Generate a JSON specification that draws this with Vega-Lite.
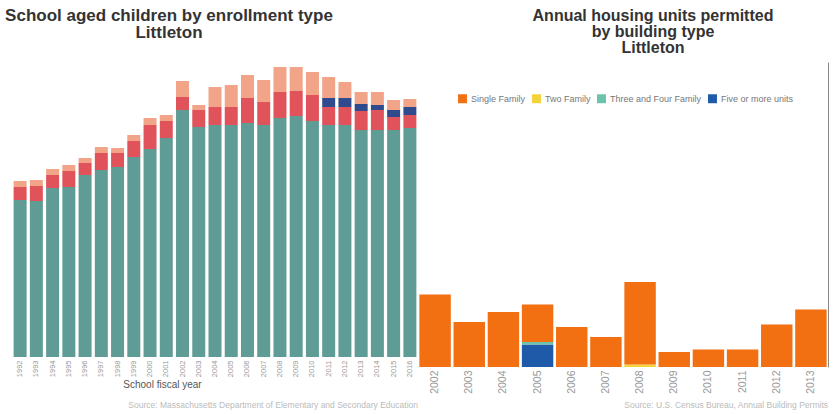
{
  "$schema": "https://vega.github.io/schema/vega-lite/v6.json",
  "padding": {"left": 5, "top": 6, "right": 2, "bottom": 0},
  "spacing": 0,
  "resolve": {"scale": {"color": "independent", "x": "independent", "y": "independent"}, "legend": {"color": "independent"}},
  "config": {
    "view": {"stroke": null},
    "font": "Liberation Sans",
    "title": {"font": "Liberation Sans", "fontWeight": "bold", "color": "#333333"}
  },
  "hconcat": [
    {
      "title": {
        "text": "Source: Massachusetts Department of Elementary and Secondary Education",
        "orient": "bottom", "anchor": "end", "fontSize": 8.5, "fontWeight": "normal",
        "color": "#bbbbbb", "offset": 11
      },
      "vconcat": [
        {
          "width": 406,
          "height": 295,
          "title": {
            "text": ["School aged children by enrollment type", "Littleton"],
            "fontSize": 17, "lineHeight": 17.5, "offset": 20, "dx": -46
          },
          "data": {
            "values": [
              {"year": "1992", "type": "Public school", "students": 942},
              {"year": "1992", "type": "Private school", "students": 78},
              {"year": "1992", "type": "Out-of-district public", "students": 36},
              {"year": "1993", "type": "Public school", "students": 936},
              {"year": "1993", "type": "Private school", "students": 90},
              {"year": "1993", "type": "Out-of-district public", "students": 36},
              {"year": "1994", "type": "Public school", "students": 1014},
              {"year": "1994", "type": "Private school", "students": 78},
              {"year": "1994", "type": "Out-of-district public", "students": 36},
              {"year": "1995", "type": "Public school", "students": 1020},
              {"year": "1995", "type": "Private school", "students": 96},
              {"year": "1995", "type": "Out-of-district public", "students": 36},
              {"year": "1996", "type": "Public school", "students": 1092},
              {"year": "1996", "type": "Private school", "students": 72},
              {"year": "1996", "type": "Out-of-district public", "students": 30},
              {"year": "1997", "type": "Public school", "students": 1122},
              {"year": "1997", "type": "Private school", "students": 102},
              {"year": "1997", "type": "Out-of-district public", "students": 36},
              {"year": "1998", "type": "Public school", "students": 1140},
              {"year": "1998", "type": "Private school", "students": 84},
              {"year": "1998", "type": "Out-of-district public", "students": 30},
              {"year": "1999", "type": "Public school", "students": 1200},
              {"year": "1999", "type": "Private school", "students": 96},
              {"year": "1999", "type": "Out-of-district public", "students": 36},
              {"year": "2000", "type": "Public school", "students": 1248},
              {"year": "2000", "type": "Private school", "students": 144},
              {"year": "2000", "type": "Out-of-district public", "students": 42},
              {"year": "2001", "type": "Public school", "students": 1314},
              {"year": "2001", "type": "Private school", "students": 102},
              {"year": "2001", "type": "Out-of-district public", "students": 36},
              {"year": "2002", "type": "Public school", "students": 1482},
              {"year": "2002", "type": "Private school", "students": 78},
              {"year": "2002", "type": "Out-of-district public", "students": 96},
              {"year": "2003", "type": "Public school", "students": 1380},
              {"year": "2003", "type": "Private school", "students": 102},
              {"year": "2003", "type": "Out-of-district public", "students": 30},
              {"year": "2004", "type": "Public school", "students": 1392},
              {"year": "2004", "type": "Private school", "students": 108},
              {"year": "2004", "type": "Out-of-district public", "students": 120},
              {"year": "2005", "type": "Public school", "students": 1392},
              {"year": "2005", "type": "Private school", "students": 108},
              {"year": "2005", "type": "Out-of-district public", "students": 132},
              {"year": "2006", "type": "Public school", "students": 1404},
              {"year": "2006", "type": "Private school", "students": 150},
              {"year": "2006", "type": "Out-of-district public", "students": 138},
              {"year": "2007", "type": "Public school", "students": 1392},
              {"year": "2007", "type": "Private school", "students": 138},
              {"year": "2007", "type": "Out-of-district public", "students": 132},
              {"year": "2008", "type": "Public school", "students": 1434},
              {"year": "2008", "type": "Private school", "students": 156},
              {"year": "2008", "type": "Out-of-district public", "students": 150},
              {"year": "2009", "type": "Public school", "students": 1446},
              {"year": "2009", "type": "Private school", "students": 150},
              {"year": "2009", "type": "Out-of-district public", "students": 144},
              {"year": "2010", "type": "Public school", "students": 1416},
              {"year": "2010", "type": "Private school", "students": 156},
              {"year": "2010", "type": "Out-of-district public", "students": 138},
              {"year": "2011", "type": "Public school", "students": 1392},
              {"year": "2011", "type": "Private school", "students": 108},
              {"year": "2011", "type": "Charter school", "students": 54},
              {"year": "2011", "type": "Out-of-district public", "students": 126},
              {"year": "2012", "type": "Public school", "students": 1392},
              {"year": "2012", "type": "Private school", "students": 108},
              {"year": "2012", "type": "Charter school", "students": 54},
              {"year": "2012", "type": "Out-of-district public", "students": 96},
              {"year": "2013", "type": "Public school", "students": 1362},
              {"year": "2013", "type": "Private school", "students": 114},
              {"year": "2013", "type": "Charter school", "students": 42},
              {"year": "2013", "type": "Out-of-district public", "students": 72},
              {"year": "2014", "type": "Public school", "students": 1362},
              {"year": "2014", "type": "Private school", "students": 120},
              {"year": "2014", "type": "Charter school", "students": 30},
              {"year": "2014", "type": "Out-of-district public", "students": 78},
              {"year": "2015", "type": "Public school", "students": 1362},
              {"year": "2015", "type": "Private school", "students": 78},
              {"year": "2015", "type": "Charter school", "students": 42},
              {"year": "2015", "type": "Out-of-district public", "students": 60},
              {"year": "2016", "type": "Public school", "students": 1374},
              {"year": "2016", "type": "Private school", "students": 78},
              {"year": "2016", "type": "Charter school", "students": 48},
              {"year": "2016", "type": "Out-of-district public", "students": 48}
            ]
          },
          "transform": [
            {"calculate": "indexof(['Public school', 'Private school', 'Charter school', 'Out-of-district public'], datum.type)", "as": "stackRank"}
          ],
          "mark": {"type": "bar"},
          "encoding": {
            "x": {
              "field": "year", "type": "ordinal",
              "scale": {"paddingInner": 0.2, "paddingOuter": 0.1},
              "axis": {
                "title": "School fiscal year", "labelAngle": -90, "labelFontSize": 7.5,
                "labelColor": "#999999", "domain": false, "ticks": false, "labelPadding": 3,
                "titleFontSize": 10, "titleFontWeight": "normal", "titleColor": "#555555",
                "titleX": 150, "titlePadding": 3
              }
            },
            "y": {
              "field": "students", "type": "quantitative", "stack": "zero",
              "scale": {"domain": [0, 1770], "nice": false},
              "axis": null
            },
            "order": {"field": "stackRank", "type": "quantitative", "sort": "ascending"},
            "color": {
              "field": "type", "type": "nominal",
              "scale": {
                "domain": ["Public school", "Private school", "Charter school", "Out-of-district public"],
                "range": ["#5f9c95", "#e0535b", "#2f4b8e", "#f1a487"]
              },
              "legend": null
            }
          }
        }
      ]
    },
    {
      "title": {
        "text": "Source: U.S. Census Bureau, Annual Building Permits",
        "orient": "bottom", "anchor": "end", "fontSize": 8.5, "fontWeight": "normal",
        "color": "#bbbbbb", "offset": 8
      },
      "vconcat": [
        {
          "width": 410,
          "height": 305,
          "title": {
            "text": ["Annual housing units permitted", "by building type", "Littleton"],
            "fontSize": 16, "lineHeight": 16, "frame": "group", "offset": 6, "dx": 30
          },
          "data": {
            "values": [
              {"year": "2002", "type": "Single Family", "units": 29},
              {"year": "2003", "type": "Single Family", "units": 18},
              {"year": "2004", "type": "Single Family", "units": 22},
              {"year": "2005", "type": "Five or more units", "units": 9},
              {"year": "2005", "type": "Three and Four Family", "units": 1},
              {"year": "2005", "type": "Single Family", "units": 15},
              {"year": "2006", "type": "Single Family", "units": 16},
              {"year": "2007", "type": "Single Family", "units": 12},
              {"year": "2008", "type": "Two Family", "units": 1},
              {"year": "2008", "type": "Single Family", "units": 33},
              {"year": "2009", "type": "Single Family", "units": 6},
              {"year": "2010", "type": "Single Family", "units": 7},
              {"year": "2011", "type": "Single Family", "units": 7},
              {"year": "2012", "type": "Single Family", "units": 17},
              {"year": "2013", "type": "Single Family", "units": 23}
            ]
          },
          "transform": [
            {"calculate": "indexof(['Five or more units', 'Three and Four Family', 'Two Family', 'Single Family'], datum.type)", "as": "stackRank"}
          ],
          "mark": {"type": "bar"},
          "encoding": {
            "x": {
              "field": "year", "type": "ordinal",
              "scale": {"paddingInner": 0.08, "paddingOuter": 0.04},
              "axis": {
                "title": null, "labelAngle": -90, "labelFontSize": 10.5,
                "labelColor": "#999999", "domain": false, "ticks": false, "labelPadding": 3
              }
            },
            "y": {
              "field": "units", "type": "quantitative", "stack": "zero",
              "scale": {"domain": [0, 122], "nice": false},
              "axis": {
                "orient": "right", "labels": false, "ticks": false, "grid": false,
                "title": null, "domainColor": "#888888"
              }
            },
            "order": {"field": "stackRank", "type": "quantitative", "sort": "ascending"},
            "color": {
              "field": "type", "type": "nominal",
              "scale": {
                "domain": ["Single Family", "Two Family", "Three and Four Family", "Five or more units"],
                "range": ["#f26f12", "#f3d23a", "#6cc2aa", "#1f5aa8"]
              },
              "legend": {
                "orient": "none", "legendX": 40, "legendY": 32, "direction": "horizontal",
                "title": null,
                "symbolType": "square", "symbolSize": 80, "symbolStrokeWidth": 0,
                "labelFontSize": 9, "labelColor": "#777777", "columnPadding": 6, "labelOffset": 4
              }
            }
          }
        }
      ]
    }
  ]
}
